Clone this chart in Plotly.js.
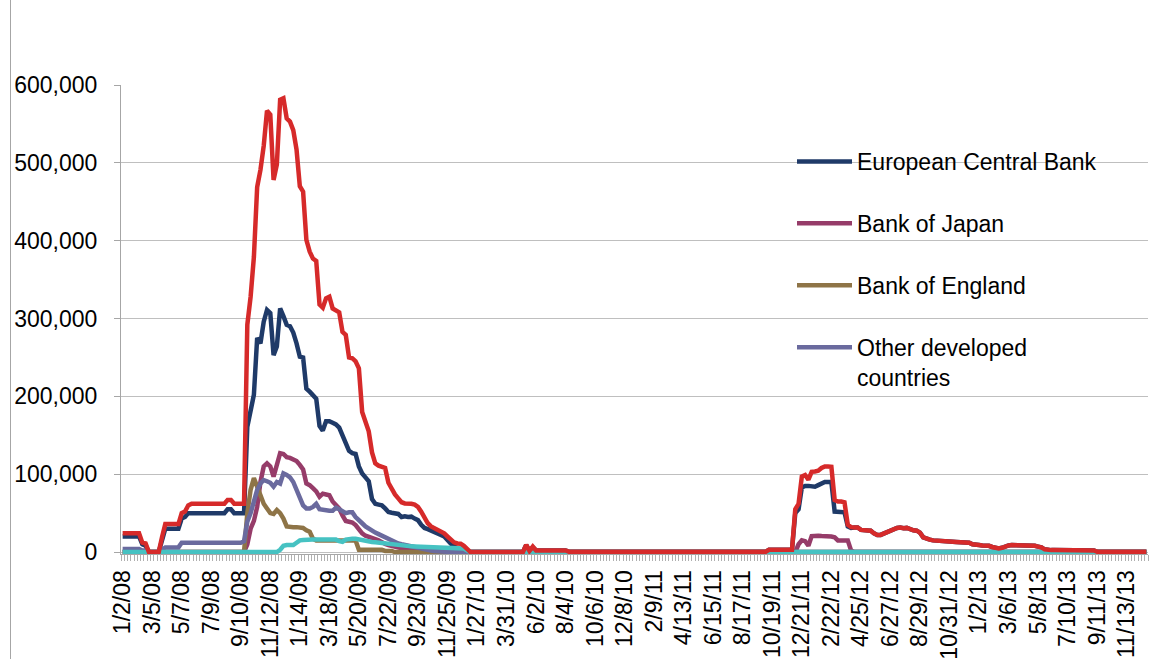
<!DOCTYPE html>
<html>
<head>
<meta charset="utf-8">
<script src="https://cdn.plot.ly/plotly-3.0.1.min.js"></script>
<style>html,body{margin:0;padding:0;background:#fff;}#chart{width:1151px;height:659px;}</style>
</head>
<body>
<div id="chart"></div>
<script>
// Weekly series (Wednesdays), starting 1/2/08
const startDate = '2008-01-02';
const tickLabels = ['1/2/08','3/5/08','5/7/08','7/9/08','9/10/08','11/12/08','1/14/09','3/18/09','5/20/09','7/22/09','9/23/09','11/25/09','1/27/10','3/31/10','6/2/10','8/4/10','10/6/10','12/8/10','2/9/11','4/13/11','6/15/11','8/17/11','10/19/11','12/21/11','2/22/12','4/25/12','6/27/12','8/29/12','10/31/12','1/2/13','3/6/13','5/8/13','7/10/13','9/11/13','11/13/13'];

const ecb = [
 20000,20000,20000,20000,20000,20000,10000,8000,0,0,
 0,0,15000,30000,30000,30000,30000,30000,43000,45000,
 50000,50000,50000,50000,50000,50000,50000,50000,50000,50000,
 50000,50000,55000,55000,50000,50000,50000,50000,161000,182000,
 202000,275000,268000,296000,311000,307000,253000,264000,313000,303000,
 292000,290000,282000,268000,251000,250000,210000,206000,201000,197000,
 162000,156000,168000,168000,166000,164000,160000,149000,140000,130000,
 127000,126000,110000,101000,96000,91000,68000,62000,61000,60000,
 56000,51500,50500,50000,49000,45000,46000,45000,45500,43000,
 41000,35000,31000,29500,28000,26000,24000,22000,20000,15000,
 11000,7700,5000,1500,0,0,0,0,0,0,
 0,0,0,0,0,0,0,0,0,0,
 0,0,0,9000,1000,6000,2000,2000,2000,2000,
 2000,2000,2000,2000,2000,2000,500,500,500,500,
 500,500,500,500,500,500,500,500,500,500,
 500,500,500,500,500,500,500,500,500,500,
 500,500,500,500,500,500,500,500,500,500,
 500,500,500,500,500,500,500,500,500,500,
 500,500,500,500,500,500,500,500,500,500,
 500,500,500,500,500,500,500,3000,3000,3000,
 3000,3000,3000,3000,3000,50000,55000,83000,85000,85000,
 84000,84000,86000,88000,90000,90000,90000,52000,52000,52000,
 51000,33000,31000,31500,31500,28500,28000,28000,27500,24000,
 22000,22000,24000,25000,27000,30000,31000,31500,30500,31000,
 29000,28000,27500,25000,19000,17000,16000,15000,14500,14000,
 13500,13300,13300,13300,13000,13000,13000,13000,12000,10000,
 9000,9000,8500,8500,8000,6500,5000,4700,5500,7500,
 8500,9000,9000,9000,9000,9000,9000,8500,8000,7000,
 6000,3500,2500,2500,2500,2500,2500,2500,2500,2500,
 2500,2000,2000,2000,2000,2000,2000,500,500,500,
 500,500,500,500,500,500,500,500,500,500,
 500,500,500
];

const boj = [
 0,0,0,0,0,0,0,0,0,0,
 0,0,0,0,0,0,0,0,0,0,
 0,0,0,0,0,0,0,0,0,0,
 0,0,0,0,0,0,0,0,10000,30000,
 40000,58000,90000,110000,114000,110000,97000,110000,127000,126000,
 122000,121000,119000,117000,112000,106000,88000,86000,82000,78000,
 71000,75000,74000,73000,65000,61000,56000,47000,40000,39000,
 38000,34700,29000,24000,21000,19000,17000,16500,15000,12000,
 10500,9000,7700,7000,6000,5000,5000,5000,5000,3000,
 3000,2500,2000,2000,1000,0,0,0,0,0,
 0,0,0,0,0,0,0,0,0,0,
 0,0,0,0,0,0,0,0,0,0,
 0,0,0,0,0,0,0,0,0,0,
 0,0,0,0,0,0,0,0,0,0,
 0,0,0,0,0,0,0,0,0,0,
 0,0,0,0,0,0,0,0,0,0,
 0,0,0,0,0,0,0,0,0,0,
 0,0,0,0,0,0,0,0,0,0,
 0,0,0,0,0,0,0,0,0,0,
 0,0,0,0,0,0,0,0,0,0,
 0,0,0,0,0,0,10000,15000,14000,8000,
 20500,21000,21000,20500,20500,20000,20000,19000,15000,15000,
 15000,15000,2000,0,0,0,0,0,0,0,
 0,0,0,0,0,0,0,0,0,0,
 0,0,0,0,0,0,0,0,0,0,
 0,0,0,0,0,0,0,0,0,0,
 0,0,0,0,0,0,0,0,0,0,
 0,0,0,0,0,0,0,0,0,0,
 0,0,0,0,0,0,0,0,0,0,
 0,0,0,0,0,0,0,0,0,0,
 0,0,0,0,0,0,0,0,0,0,
 0,0,0
];

const boe = [
 0,0,0,0,0,0,0,0,0,0,
 0,0,0,0,0,0,0,0,0,0,
 0,0,0,0,0,0,0,0,0,0,
 0,0,0,0,0,0,0,0,50000,80000,
 95000,84000,72000,62000,56000,50000,49000,54000,50000,43000,
 33000,32000,32000,32000,31500,31000,28000,26000,17000,15000,
 15000,15000,15000,15000,15000,15000,15000,15000,15000,15000,
 15000,15000,3000,3000,3000,3000,3000,3000,3000,3000,
 1500,1500,1500,0,0,0,0,0,0,0,
 0,0,0,0,0,0,0,0,0,0,
 0,0,0,0,0,0,0,0,0,0,
 0,0,0,0,0,0,0,0,0,0,
 0,0,0,0,0,0,0,0,0,0,
 0,0,0,0,0,0,0,0,0,0,
 0,0,0,0,0,0,0,0,0,0,
 0,0,0,0,0,0,0,0,0,0,
 0,0,0,0,0,0,0,0,0,0,
 0,0,0,0,0,0,0,0,0,0,
 0,0,0,0,0,0,0,0,0,0,
 0,0,0,0,0,0,0,0,0,0,
 0,0,0,0,0,0,0,0,0,0,
 0,0,0,0,0,0,0,0,0,0,
 0,0,0,0,0,0,0,0,0,0,
 0,0,0,0,0,0,0,0,0,0,
 0,0,0,0,0,0,0,0,0,0,
 0,0,0,0,0,0,0,0,0,0,
 0,0,0,0,0,0,0,0,0,0,
 0,0,0,0,0,0,0,0,0,0,
 0,0,0,0,0,0,0,0,0,0,
 0,0,0,0,0,0,0,0,0,0,
 0,0,0,0,0,0,0,0,0,0,
 0,0,0
];

const otherDeveloped = [
 4000,4000,4000,4000,4000,4000,2000,2000,0,0,
 0,0,3000,6000,6000,6000,6000,6000,12000,12000,
 12000,12000,12000,12000,12000,12000,12000,12000,12000,12000,
 12000,12000,12000,12000,12000,12000,12000,14000,39000,50000,
 67000,80000,88000,92500,91000,89000,84000,90000,88000,101000,
 99000,96000,90000,80000,68000,60000,56000,56000,58000,62000,
 55000,54000,53000,53000,53000,57000,55000,52000,50000,51000,
 51000,45000,40000,37000,33000,30000,27000,25000,23000,21000,
 18000,16000,14000,12500,11000,10000,9000,8000,7500,6000,
 5000,4000,3500,3000,2000,1500,1000,500,0,0,
 0,0,0,0,0,0,0,0,0,0,
 0,0,0,0,0,0,0,0,0,0,
 0,0,0,0,0,0,0,0,0,0,
 0,0,0,0,0,0,0,0,0,0,
 0,0,0,0,0,0,0,0,0,0,
 0,0,0,0,0,0,0,0,0,0,
 0,0,0,0,0,0,0,0,0,0,
 0,0,0,0,0,0,0,0,0,0,
 0,0,0,0,0,0,0,0,0,0,
 0,0,0,0,0,0,0,0,0,0,
 0,0,0,0,0,0,0,0,0,0,
 0,0,0,0,0,0,0,0,0,0,
 0,0,0,0,0,0,0,0,0,0,
 0,0,0,0,0,0,0,0,0,0,
 0,0,0,0,0,0,0,0,0,0,
 0,0,0,0,0,0,0,0,0,0,
 0,0,0,0,0,0,0,0,0,0,
 0,0,0,0,0,0,0,0,0,0,
 0,0,0,0,0,0,0,0,0,0,
 0,0,0,0,0,0,0,0,0,0,
 0,0,0,0,0,0,0,0,0,0,
 0,0,0
];

const emerging = [
 0,0,0,0,0,0,0,0,0,0,
 0,0,0,0,0,0,0,0,0,0,
 0,0,0,0,0,0,0,0,0,0,
 0,0,0,0,0,0,0,0,0,0,
 0,0,0,0,0,0,0,0,3000,8000,
 9000,9000,9000,12000,15000,15500,16000,16000,16000,16000,
 16000,16000,16000,16000,16000,16000,14000,13000,16000,17000,
 17000,17000,16000,15500,15000,14000,13000,12500,12000,11000,
 10000,9500,9000,8500,8000,7700,7500,7400,7300,7200,
 7000,6500,6400,6200,6100,6000,5500,5400,5300,5200,
 5000,5000,5000,5000,4500,2000,0,0,0,0,
 0,0,0,0,0,0,0,0,0,0,
 0,0,0,0,0,0,0,0,0,0,
 0,0,0,0,0,0,0,0,0,0,
 0,0,0,0,0,0,0,0,0,0,
 0,0,0,0,0,0,0,0,0,0,
 0,0,0,0,0,0,0,0,0,0,
 0,0,0,0,0,0,0,0,0,0,
 0,0,0,0,0,0,0,0,0,0,
 0,0,0,0,0,0,0,0,0,0,
 0,0,0,0,0,0,0,0,0,0,
 0,0,0,0,0,0,0,0,0,0,
 0,0,0,0,0,0,0,0,0,0,
 0,0,0,0,0,0,0,0,0,0,
 0,0,0,0,0,0,0,0,0,0,
 0,0,0,0,0,0,0,0,0,0,
 0,0,0,0,0,0,0,0,0,0,
 0,0,0,0,0,0,0,0,0,0,
 0,0,0,0,0,0,0,0,0,0,
 0,0,0,0,0,0,0,0,0,0,
 0,0,0,0,0,0,0,0,0,0,
 0,0,0
];

const total = [
 24000,24000,24000,24000,24000,24000,12000,11000,0,0,
 0,0,19000,36000,36000,36000,36000,36000,50000,52000,
 60000,62000,62000,62000,62000,62000,62000,62000,62000,62000,
 62000,62000,67000,67000,62000,62000,62000,62000,292000,328000,
 379000,469000,491000,522000,567000,562000,478000,498000,581000,583000,
 557000,553000,542000,517000,470000,463000,401000,386000,377000,374000,
 318000,314000,326000,328000,313000,311000,308000,283000,279000,250000,
 249000,245000,236000,180000,168000,155000,128000,114000,111000,110000,
 108000,89000,80000,74000,69000,64000,62500,62500,62000,61000,
 58000,52000,44000,37000,33000,30500,29000,27000,24000,20000,
 15500,12500,11000,10700,8000,3000,0,0,0,0,
 0,0,0,0,0,0,0,0,0,0,
 0,0,0,9200,1500,7000,2000,2000,2000,2000,
 2000,2000,2000,2000,2000,2000,500,500,500,500,
 500,500,500,500,500,500,500,500,500,500,
 500,500,500,500,500,500,500,500,500,500,
 500,500,500,500,500,500,500,500,500,500,
 500,500,500,500,500,500,500,500,500,500,
 500,500,500,500,500,500,500,500,500,500,
 500,500,500,500,500,500,500,3000,3000,3000,
 3000,3000,3000,3000,3000,55000,62000,97000,99000,93000,
 103000,103500,104500,108000,110000,110000,109500,67000,65000,65000,
 64000,35000,32000,31500,31500,28500,28000,28000,27500,24000,
 22000,22000,24000,25000,27000,30000,31000,31500,30500,31000,
 29000,28000,27500,25000,19000,17000,16000,15000,14500,14000,
 13500,13300,13300,13300,13000,13000,13000,13000,12000,10000,
 9000,9000,8500,8500,8000,6500,5000,4700,5500,7500,
 8500,9000,9000,9000,9000,9000,9000,8500,8000,7000,
 6000,3500,2500,2500,2500,2500,2500,2500,2500,2500,
 2500,2000,2000,2000,2000,2000,2000,500,500,500,
 500,500,500,500,500,500,500,500,500,500,
 500,500,500
];

// weekly category dates
const WEEK = 7 * 86400000;
const t0 = Date.parse(startDate + 'T00:00:00Z');
function iso(ms){ return new Date(ms).toISOString().slice(0,19).replace('T',' '); }
const dates = total.map((_, i) => iso(t0 + i * WEEK).slice(0,10));
const tickVals = tickLabels.map(s => {
  const [m, d, y] = s.split('/').map(Number);
  return '20' + String(y).padStart(2,'0') + '-' + String(m).padStart(2,'0') + '-' + String(d).padStart(2,'0');
});

const FONT = 'Liberation Sans, Arial, sans-serif';
const W = 4.5;
function tr(y, name, color, show, group){
  return {x: dates, y: y, name: name, type: 'scatter', mode: 'lines',
          line: {color: color, width: W}, showlegend: show, legendgroup: group, hoverinfo: 'skip'};
}
const data = [
  tr(ecb, 'European Central Bank', '#1F3A68', true, 'g1'),
  tr(boj, 'Bank of Japan', '#963C69', true, 'g2'),
  tr(boe, 'Bank of England', '#8E7447', true, 'g3'),
  tr(otherDeveloped, 'Other developed<br>countries', '#6A6A9E', true, 'g4'),
  tr(emerging, 'Emerging', '#46C2C2', false, 'g5'),
  tr(total, 'Total', '#D62A2A', false, 'g6')
];

const plotL = 121, plotR = 1148, plotT = 85, plotB = 554;
const pw = plotR - plotL, ph = plotB - plotT;
const layout = {
  width: 1151, height: 659,
  margin: {l: plotL, r: 1151 - plotR, t: plotT, b: 659 - plotB, pad: 0},
  paper_bgcolor: '#fff', plot_bgcolor: '#fff',
  font: {family: FONT, size: 23, color: '#000'},
  showlegend: true,
  legend: {x: (792 - plotL) / pw, xanchor: 'left', y: (plotB - 140) / ph, yanchor: 'top',
           bgcolor: 'rgba(0,0,0,0)', font: {family: FONT, size: 23, color: '#000'},
           traceorder: 'grouped', tracegroupgap: 29, itemwidth: 55, valign: 'top'},
  xaxis: {
    type: 'date',
    range: [iso(t0 - WEEK / 2), iso(t0 + (total.length - 1) * WEEK + WEEK / 2)],
    tickmode: 'array', tickvals: tickVals, ticktext: tickLabels,
    tickangle: -90, ticks: '', showgrid: false,
    showline: true, linecolor: '#A6A6A6', linewidth: 1,
    tickfont: {family: FONT, size: 23, color: '#000'},
    ticklabelstandoff: 6,
    minor: {tick0: iso(t0 - WEEK / 2), dtick: WEEK, ticks: 'outside', ticklen: 6,
            tickcolor: '#B0B0B0', tickwidth: 1, showgrid: false}
  },
  yaxis: {
    range: [-2500, 600000], tickmode: 'linear', tick0: 0, dtick: 100000,
    tickformat: ',d', showgrid: true, gridcolor: '#BFBFBF', gridwidth: 1,
    zeroline: false, showline: true, linecolor: '#A6A6A6', linewidth: 1,
    ticks: 'outside', ticklen: 6, tickcolor: '#A6A6A6',
    tickfont: {family: FONT, size: 23, color: '#000'},
    ticklabelstandoff: 12
  },
  shapes: [
    {type: 'line', xref: 'paper', yref: 'paper',
     x0: (10.5 - plotL) / pw, x1: (10.5 - plotL) / pw,
     y0: (plotB - 0) / ph, y1: (plotB - 659) / ph,
     line: {color: '#A6A6A6', width: 1}}
  ]
};

Plotly.newPlot('chart', data, layout, {displayModeBar: false, staticPlot: true});
</script>
</body>
</html>
